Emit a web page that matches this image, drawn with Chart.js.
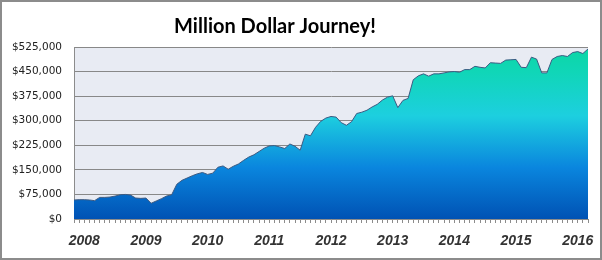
<!DOCTYPE html>
<html>
<head>
<meta charset="utf-8">
<title>Million Dollar Journey!</title>
<script src="https://cdn.jsdelivr.net/npm/chart.js@4"></script>
<style>
  html, body { margin: 0; padding: 0; background: #fff; }
  #chart { display: block; }
</style>
</head>
<body>
<canvas id="chart" width="602" height="260"></canvas>
<script>
// monthly net worth, Nov 2007 .. Mar 2016
const months = ["Jan","Feb","Mar","Apr","May","Jun","Jul","Aug","Sep","Oct","Nov","Dec"];
const startYear = 2007;
const startMonth = 10; // Nov
const netWorth = [
  58000, 59000, 59000, 58000, 56000, 66000, 66000, 67000, 70000, 74000,
  75000, 73000, 64000, 63000, 64000, 48000, 55000, 62000, 70000, 74000,
  106000, 118000, 125000, 132000, 138000, 142000, 136000, 140000, 158000, 162000,
  152000, 161000, 168000, 179000, 189000, 196000, 206000, 216000, 223000, 224000,
  220000, 215000, 229000, 222000, 210000, 259000, 254000, 280000, 298000, 308000,
  313000, 311000, 294000, 286000, 297000, 322000, 326000, 332000, 342000, 350000,
  363000, 372000, 376000, 340000, 362000, 368000, 425000, 437000, 443000, 436000,
  443000, 443000, 446000, 449000, 450000, 448000, 456000, 456000, 466000, 463000,
  461000, 477000, 476000, 475000, 485000, 486000, 487000, 463000, 462000, 494000,
  488000, 446000, 446000, 487000, 496000, 499000, 496000, 508000, 511000, 505000,
  519000
];
const labels = netWorth.map((v, i) => {
  const m = (startMonth + i) % 12;
  const y = startYear + Math.floor((startMonth + i) / 12);
  return months[m] + " " + y;
});
const yTicksMax = 525000;
const yTicksStep = 75000;

const titleText = "Million Dollar Journey!";

const frame = {
  id: "frame",
  beforeDraw(chart) {
    const { ctx, chartArea } = chart;
    ctx.save();
    ctx.fillStyle = "#ffffff";
    ctx.fillRect(0, 0, chart.width, chart.height);
    ctx.fillStyle = "#e8ebf3";
    ctx.fillRect(chartArea.left, chartArea.top, chartArea.right - chartArea.left, chartArea.bottom - chartArea.top);
    ctx.restore();
  },
  afterDraw(chart) {
    const ctx = chart.ctx;
    ctx.save();
    ctx.fillStyle = "#000";
    ctx.font = "bold 20px Lato";
    ctx.textAlign = "center";
    ctx.textBaseline = "middle";
    ctx.fillText(titleText, 275, 27);
    ctx.strokeStyle = "#8c8c8c";
    ctx.lineWidth = 2;
    ctx.strokeRect(1, 1, chart.width - 2, chart.height - 2);
    ctx.restore();
  }
};

const fillGradient = (context) => {
  const { ctx, chartArea } = context.chart;
  if (!chartArea) return "#0a86de";
  const g = ctx.createLinearGradient(0, chartArea.bottom, 0, chartArea.top);
  g.addColorStop(0, "#0052b4");
  g.addColorStop(0.3, "#0a86de");
  g.addColorStop(0.6, "#1dcfdf");
  g.addColorStop(0.85, "#10d6b8");
  g.addColorStop(1, "#0cd6a4");
  return g;
};

new Chart(document.getElementById("chart"), {
  type: "line",
  data: {
    labels: labels,
    datasets: [
      {
        label: "Net worth",
        data: netWorth,
        fill: "origin",
        backgroundColor: fillGradient,
        borderColor: "#3c5a82",
        borderWidth: 1,
        pointRadius: 0,
        tension: 0,
      },
    ],
  },
  options: {
    responsive: false,
    animation: false,
    layout: {
      padding: { top: 47, right: 14, bottom: 0, left: 0 },
    },
    plugins: {
      legend: { display: false },
      tooltip: { enabled: false },
      title: { display: false },
    },
    scales: {
      x: {
        offset: false,
        grid: {
          drawOnChartArea: false,
          drawTicks: true,
          tickLength: 4,
          color: "#8c8c8c",
        },
        border: { display: true, color: "#8c8c8c" },
        ticks: {
          autoSkip: false,
          maxRotation: 0,
          minRotation: 0,
          padding: 10,
          color: "#333",
          font: { family: "Liberation Sans", size: 14, weight: "bold", style: "italic" },
          callback: function (value, index) {
            const l = labels[index];
            return l.startsWith("Jan") ? l.slice(4) : "";
          },
        },
        afterFit: (axis) => { axis.height = 41; },
      },
      y: {
        min: 0,
        max: yTicksMax,
        grid: {
          drawTicks: false,
          color: "#888",
        },
        border: { display: true, color: "#8c8c8c" },
        ticks: {
          stepSize: yTicksStep,
          padding: 12,
          color: "#222",
          font: { family: "DejaVu Sans", size: 10.5 },
          callback: (v) => "$" + v.toLocaleString("en-US"),
        },
        afterFit: (axis) => { axis.width = 74; },
      },
    },
  },
  plugins: [frame],
});
</script>
</body>
</html>
